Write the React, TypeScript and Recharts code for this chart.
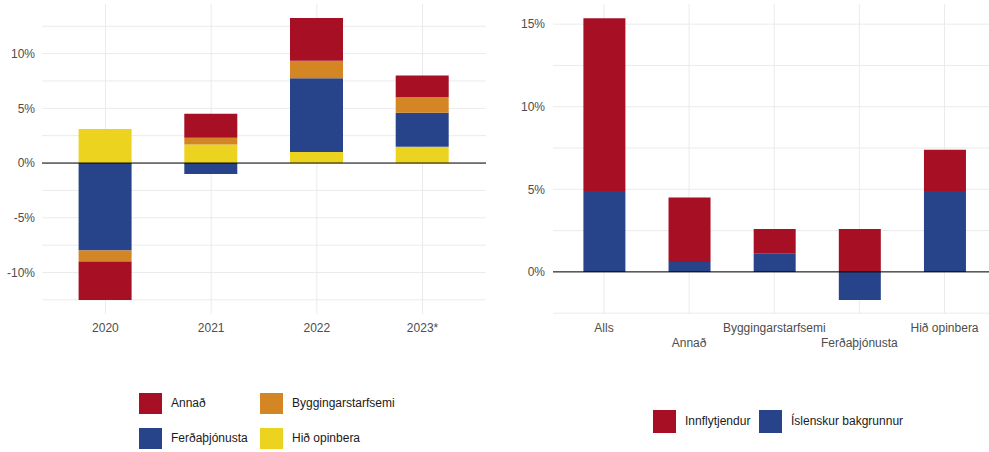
import { BarChart, Bar, XAxis, YAxis, CartesianGrid, ReferenceLine } from 'recharts';

const YEARS = ['2020', '2021', '2022', '2023*'];
const ANNAD = [-3.5, 2.2, 3.9, 2.0];
const BYGG = [-1.0, 0.6, 1.6, 1.4];
const FERDA = [-8.0, -1.0, 6.75, 3.1];
const OPINB = [3.1, 1.7, 1.0, 1.5];

const SECTORS = ['Alls', 'Annað', 'Byggingarstarfsemi', 'Ferðaþjónusta', 'Hið opinbera'];
const INNFL = [10.45, 3.9, 1.5, 2.6, 2.5];
const ISL = [4.9, 0.6, 1.1, -1.7, 4.9];

const LEFT_TICKS = [-12.5, -10, -7.5, -5, -2.5, 0, 2.5, 5, 7.5, 10, 12.5];
const RIGHT_TICKS = [-2.5, 0, 2.5, 5, 7.5, 10, 12.5, 15];

const RED = '#a60f24';
const BLUE = '#27448a';
const ORANGE = '#d48625';
const YELLOW = '#ebd320';
const AXIS_TXT = '#4d4d4d';
const GRID = '#ebebeb';

const pct = (v: number) => (v % 5 === 0 ? `${v}%` : '');

const yearData = YEARS.map((year, i) => ({
  year,
  annad: ANNAD[i],
  bygg: BYGG[i],
  ferda: FERDA[i],
  opinb: OPINB[i],
}));

const sectorData = SECTORS.map((sector, i) => ({
  sector,
  innfl: INNFL[i],
  isl: ISL[i],
}));

function StaggerTick({ x, y, payload, index }: any) {
  return (
    <text
      x={x}
      y={y + (index % 2 ? 33 : 18)}
      textAnchor="middle"
      fill={AXIS_TXT}
      fontSize={12}
    >
      {payload.value}
    </text>
  );
}

function Key({ x, y, w, h, color, label }: any) {
  return (
    <>
      <div style={{ position: 'absolute', left: x, top: y, width: w, height: h, background: color }} />
      <div
        style={{
          position: 'absolute',
          left: x + w + 9,
          top: y,
          height: h,
          lineHeight: `${h}px`,
          fontSize: 12,
          color: '#1a1a1a',
          whiteSpace: 'nowrap',
        }}
      >
        {label}
      </div>
    </>
  );
}

export default function App() {
  return (
    <div
      style={{
        position: 'absolute',
        left: 0,
        top: 0,
        width: 989,
        height: 452,
        background: '#fff',
        fontFamily: '"Liberation Sans", Arial, sans-serif',
        overflow: 'hidden',
      }}
    >
      <div style={{ position: 'absolute', left: 0, top: 0 }}>
        <BarChart
          width={495}
          height={452}
          data={yearData}
          stackOffset="sign"
          margin={{ top: 4, right: 9, bottom: 108, left: 0 }}
        >
          <CartesianGrid stroke={GRID} syncWithTicks />
          <XAxis
            dataKey="year"
            height={30}
            axisLine={false}
            tickLine={false}
            tickSize={0}
            tickMargin={9}
            padding={{ left: 10.6, right: 10.6 }}
            tick={{ fill: AXIS_TXT, fontSize: 12 }}
          />
          <YAxis
            width={42}
            domain={[-13.79, 14.53]}
            ticks={LEFT_TICKS}
            allowDataOverflow
            interval={0}
            axisLine={false}
            tickLine={false}
            tickSize={0}
            tickMargin={7}
            tickFormatter={pct}
            tick={{ fill: AXIS_TXT, fontSize: 12 }}
          />
          <Bar dataKey="opinb" stackId="a" fill={YELLOW} barSize={53} isAnimationActive={false} />
          <Bar dataKey="ferda" stackId="a" fill={BLUE} barSize={53} isAnimationActive={false} />
          <Bar dataKey="bygg" stackId="a" fill={ORANGE} barSize={53} isAnimationActive={false} />
          <Bar dataKey="annad" stackId="a" fill={RED} barSize={53} isAnimationActive={false} />
          <ReferenceLine y={0} stroke="#000" strokeWidth={1} />
        </BarChart>
      </div>

      <div style={{ position: 'absolute', left: 495, top: 0 }}>
        <BarChart
          width={494}
          height={452}
          data={sectorData}
          stackOffset="sign"
          margin={{ top: 4, right: 0, bottom: 98, left: 0 }}
        >
          <CartesianGrid stroke={GRID} syncWithTicks />
          <XAxis
            dataKey="sector"
            height={40}
            axisLine={false}
            tickLine={false}
            tickSize={0}
            tickMargin={0}
            interval={0}
            padding={{ left: 8.4, right: 1.9 }}
            tick={<StaggerTick />}
          />
          <YAxis
            width={58}
            domain={[-2.55, 16.22]}
            ticks={RIGHT_TICKS}
            allowDataOverflow
            interval={0}
            axisLine={false}
            tickLine={false}
            tickSize={0}
            tickMargin={8}
            tickFormatter={pct}
            tick={{ fill: AXIS_TXT, fontSize: 12 }}
          />
          <Bar dataKey="isl" stackId="b" fill={BLUE} barSize={42} isAnimationActive={false} />
          <Bar dataKey="innfl" stackId="b" fill={RED} barSize={42} isAnimationActive={false} />
          <ReferenceLine y={0} stroke="#000" strokeWidth={1} />
        </BarChart>
      </div>

      <Key x={139} y={393} w={23} h={21} color={RED} label="Annað" />
      <Key x={260} y={393} w={23} h={21} color={ORANGE} label="Byggingarstarfsemi" />
      <Key x={139} y={428} w={23} h={21} color={BLUE} label="Ferðaþjónusta" />
      <Key x={260} y={428} w={23} h={21} color={YELLOW} label="Hið opinbera" />

      <Key x={653} y={410} w={23} h={23} color={RED} label="Innflytjendur" />
      <Key x={759} y={410} w={23} h={23} color={BLUE} label="Íslenskur bakgrunnur" />
    </div>
  );
}
